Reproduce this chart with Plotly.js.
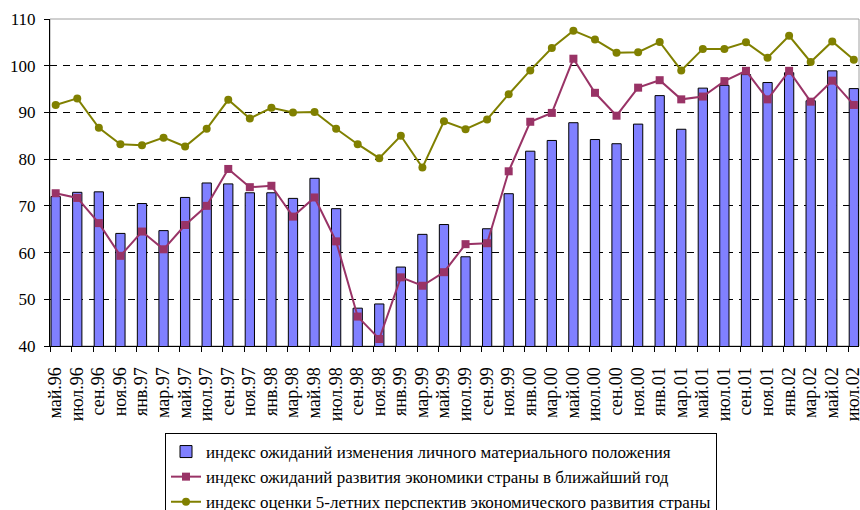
<!DOCTYPE html>
<html>
<head>
<meta charset="utf-8">
<script src="https://cdn.plot.ly/plotly-3.0.1.min.js"></script>
<style>html,body{margin:0;padding:0;background:#fff;}#chart{width:860px;height:510px;}</style>
</head>
<body>
<div id="chart"></div>
<script>
const categories = ["май.96","июл.96","сен.96","ноя.96","янв.97","мар.97","май.97","июл.97","сен.97","ноя.97",
  "янв.98","мар.98","май.98","июл.98","сен.98","ноя.98","янв.99","мар.99","май.99","июл.99",
  "сен.99","ноя.99","янв.00","мар.00","май.00","июл.00","сен.00","ноя.00","янв.01","мар.01",
  "май.01","июл.01","сен.01","ноя.01","янв.02","мар.02","май.02","июл.02"];

const personalIndex = [72.0,72.9,73.0,64.1,70.5,64.7,71.8,74.9,74.7,72.8,
  72.8,71.6,75.9,69.4,48.1,49.0,56.9,63.9,66.0,59.1,
  65.1,72.6,81.7,84.0,87.8,84.2,83.3,87.5,93.6,86.4,
  95.2,95.8,98.1,96.4,98.5,92.5,98.9,95.1];

const economyYearIndex = [72.7,71.7,66.3,59.3,64.5,60.7,65.9,70.0,77.9,74.0,
  74.3,67.7,71.8,62.4,46.3,41.5,54.7,52.9,55.8,61.8,
  62.0,77.4,88.0,89.9,101.5,94.2,89.3,95.3,96.9,92.8,
  93.4,96.7,98.9,92.8,98.9,92.3,96.8,91.6];

const fiveYearIndex = [91.6,93.0,86.7,83.2,83.0,84.6,82.7,86.5,92.7,88.7,
  91.0,90.0,90.1,86.5,83.2,80.2,85.0,78.2,88.1,86.4,
  88.5,93.9,99.0,103.8,107.5,105.6,102.8,102.9,105.1,99.0,
  103.6,103.6,105.0,101.7,106.4,100.8,105.2,101.3];

const seriesNames = [
  "индекс ожиданий изменения личного материального положения",
  "индекс ожиданий развития экономики страны в ближайший год",
  "индекс оценки 5-летних перспектив экономического развития страны"
];

const yTicks = [40,50,60,70,80,90,100,110];

const idx = categories.map((c, i) => i);
const serif = "Liberation Serif";

const traces = [
  {
    type: "bar", x: idx, y: personalIndex, name: seriesNames[0],
    width: 0.43,
    marker: {color: "#8080FF", line: {color: "#000000", width: 1}}
  },
  {
    type: "scatter", mode: "lines+markers", x: idx, y: economyYearIndex, name: seriesNames[1],
    line: {color: "#993366", width: 2},
    marker: {symbol: "square", size: 8, color: "#993366"}
  },
  {
    type: "scatter", mode: "lines+markers", x: idx, y: fiveYearIndex, name: seriesNames[2],
    line: {color: "#808000", width: 2},
    marker: {symbol: "circle", size: 8, color: "#808000"}
  }
];

const layout = {
  width: 860, height: 510,
  margin: {l: 50, r: 1, t: 19, b: 164, autoexpand: false},
  paper_bgcolor: "#ffffff", plot_bgcolor: "#ffffff",
  font: {family: serif, size: 16, color: "#000000"},
  showlegend: true,
  legend: {
    xref: "container", yref: "container",
    x: 165 / 860, y: 1 - 433 / 510, xanchor: "left", yanchor: "top",
    bordercolor: "#000000", borderwidth: 1, bgcolor: "#ffffff",
    font: {family: serif, size: 17, color: "#000000"},
    tracegroupgap: 0, traceorder: "normal"
  },
  xaxis: {
    range: [-0.264, 37.24],
    tickmode: "array",
    tickvals: idx.map(i => i - 0.25),
    ticktext: categories,
    ticklabelshift: 5,
    ticklabelstandoff: 8,
    ticklabeloverflow: "allow",
    tickangle: -90,
    ticks: "outside", ticklen: 5, tickcolor: "#000000",
    showgrid: false, zeroline: false, automargin: false,
    showline: true, linecolor: "#000000", linewidth: 1,
    tickfont: {family: serif, size: 18, color: "#000000"},
    fixedrange: true
  },
  yaxis: {
    range: [40, 110],
    tickmode: "array", tickvals: yTicks,
    ticks: "outside", ticklen: 5, tickcolor: "#000000",
    ticklabelstandoff: 5,
    showgrid: true, gridcolor: "#000000", gridwidth: 1, griddash: "7px,6px",
    zeroline: false, automargin: false,
    showline: true, linecolor: "#000000", linewidth: 1,
    tickfont: {family: serif, size: 17, color: "#000000"},
    fixedrange: true
  },
  shapes: [
    {type: "rect", xref: "paper", yref: "paper", x0: 0, x1: 1, y0: 0, y1: 1,
     line: {color: "#A0A0A0", width: 1}, layer: "below"}
  ],
  bargap: 0.5
};

Plotly.newPlot("chart", traces, layout, {displayModeBar: false, staticPlot: true});
</script>
</body>
</html>
